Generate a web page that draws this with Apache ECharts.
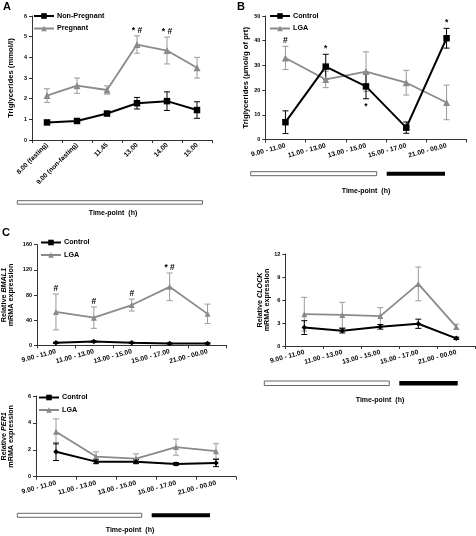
<!DOCTYPE html>
<html><head><meta charset="utf-8">
<script src="https://cdn.jsdelivr.net/npm/echarts@6/dist/echarts.min.js"></script>
<style>html,body{margin:0;padding:0;background:#fff}#c{width:476px;height:536px}</style>
</head><body><div id="c"></div>
<script>
// ---------- Panel A ----------
const catsA = ['8.00 (fasting)', '9.00 (non-fasting)', '11.45', '13.00', '14.00', '15.00'];
const ticksA = [0, 1, 2, 3, 4, 5, 6];
const nonPregMean = [0.85, 0.92, 1.28, 1.78, 1.88, 1.45];
const nonPregErr  = [0.07, 0.10, 0.08, 0.28, 0.45, 0.40];
const pregMean = [2.15, 2.63, 2.42, 4.62, 4.33, 3.50];
const pregErr  = [0.33, 0.37, 0.20, 0.42, 0.65, 0.50];
const pregAnno = ['', '', '', '* #', '* #', ''];

// ---------- shared time categories ----------
const catsTime = ['9.00 - 11.00', '11.00 - 13.00', '13.00 - 15.00', '15.00 - 17.00', '21.00 - 00.00'];

// ---------- Panel B ----------
const ticksB = [0, 10, 20, 30, 40, 50];
const ctrlB = [7, 29.5, 21.5, 4.8, 41];
const ctrlBErr = [4.6, 5, 5, 2.3, 4];
const ctrlBAnnoAbove = ['', '*', '', '', '*'];
const ctrlBAnnoBelow = ['', '', '*', '', ''];
const lgaB = [33, 24.3, 27.5, 23, 15];
const lgaBErr = [4.7, 3.3, 8, 5, 7];
const lgaBAnno = ['#', '', '', '', ''];

// ---------- Panel C: BMAL1 ----------
const ticksBmal = [0, 40, 80, 120, 160];
const ctrlBmal = [4, 6, 4, 3, 3];
const ctrlBmalErr = [1, 1, 1, 1, 1];
const lgaBmal = [53, 44, 64, 93, 50];
const lgaBmalErr = [28.5, 17, 9.5, 22, 15.5];
const lgaBmalAnno = ['#', '#', '#', '* #', ''];

// ---------- Panel C: CLOCK ----------
const ticksClock = [0, 3, 6, 9, 12];
const ctrlClock = [2.4, 2.0, 2.5, 2.9, 1.0];
const ctrlClockErr = [0.9, 0.3, 0.3, 0.6, 0.15];
const lgaClock = [4.15, 4.05, 3.9, 8.1, 2.5];
const lgaClockErr = [2.2, 1.65, 1.1, 2.2, 0.35];

// ---------- Panel C: PER1 ----------
const ticksPer = [0, 2, 4, 6];
const ctrlPer = [1.85, 1.12, 1.12, 0.95, 1.02];
const ctrlPerErr = [0.65, 0.15, 0.15, 0.1, 0.27];
const lgaPer = [3.35, 1.5, 1.35, 2.2, 1.9];
const lgaPerErr = [0.95, 0.35, 0.35, 0.6, 0.55];

const FF = '"Liberation Sans", Arial, sans-serif';
const BLACK = '#000';
const GRAY = '#8a8a8a';
const GRAY_ERR = '#9a9a9a';
const AX = '#333';

const chart = echarts.init(document.getElementById('c'), null, {renderer: 'canvas'});

function yAx(idx, ticks, name, gap, rich) {
  const o = {
    type: 'value', gridIndex: idx,
    min: ticks[0], max: ticks[ticks.length - 1], interval: ticks[1] - ticks[0],
    splitLine: {show: false},
    axisLine: {show: true, lineStyle: {color: AX, width: 1}},
    axisTick: {show: true, length: 3, lineStyle: {color: AX}},
    axisLabel: {fontSize: 5.5, fontWeight: 'bold', color: '#000', margin: 5, fontFamily: FF},
    name: name, nameLocation: 'middle', nameGap: gap,
    nameTextStyle: {fontSize: 7.7, fontWeight: 'bold', color: '#000', fontFamily: FF}
  };
  if (rich) {
    o.nameTextStyle = {color: '#000', fontFamily: FF, lineHeight: 7, rich: {
      n: {fontSize: 7.2, fontWeight: 'bold', fontFamily: FF, color: '#000', lineHeight: 7},
      i: {fontSize: 7.2, fontWeight: 'bold', fontStyle: 'italic', fontFamily: FF, color: '#000', lineHeight: 7}
    }};
  }
  return o;
}
function xAx(idx, cats, rotate, margin) {
  return {
    type: 'category', gridIndex: idx, data: cats, boundaryGap: true,
    axisLine: {show: true, lineStyle: {color: AX, width: 1}},
    axisTick: {show: true, length: 3, lineStyle: {color: AX}},
    axisLabel: {rotate: rotate, fontSize: 6.7, fontWeight: 'bold', color: '#000', margin: margin, fontFamily: FF, interval: 0}
  };
}
function lineS(idx, name, data, color, symbol, size) {
  return {
    type: 'line', name: name, xAxisIndex: idx, yAxisIndex: idx, data: data,
    symbol: symbol, symbolSize: size, showSymbol: true, z: color === BLACK ? 4 : 3,
    itemStyle: {color: color}, lineStyle: {color: color, width: color === BLACK ? 2 : 1.8},
    emphasis: {disabled: true}, animation: false
  };
}
function errS(idx, mean, err, color, above, below) {
  return {
    type: 'custom', xAxisIndex: idx, yAxisIndex: idx, z: 2, animation: false,
    data: mean.map((m, i) => [i, m - err[i], m + err[i]]),
    encode: {x: 0, y: [1, 2]},
    renderItem: function (params, api) {
      const i = api.value(0);
      const lo = api.coord([i, api.value(1)]);
      const hi = api.coord([i, api.value(2)]);
      const c = 3;
      const st = {stroke: color, lineWidth: 1};
      const ch = [
        {type: 'line', shape: {x1: hi[0], y1: hi[1], x2: lo[0], y2: lo[1]}, style: st},
        {type: 'line', shape: {x1: hi[0] - c, y1: hi[1], x2: hi[0] + c, y2: hi[1]}, style: st},
        {type: 'line', shape: {x1: lo[0] - c, y1: lo[1], x2: lo[0] + c, y2: lo[1]}, style: st}
      ];
      const di = params.dataIndex;
      if (above && above[di]) ch.push({type: 'text', x: hi[0], y: hi[1] - 1,
        style: {text: above[di], fill: '#000', font: 'bold 8.5px ' + FF, align: 'center', verticalAlign: 'bottom'}});
      if (below && below[di]) ch.push({type: 'text', x: lo[0], y: lo[1] + 3,
        style: {text: below[di], fill: '#000', font: 'bold 8.5px ' + FF, align: 'center', verticalAlign: 'top'}});
      return {type: 'group', children: ch};
    }
  };
}
function legendAt(left, top, names) {
  return {
    left: left, top: top, orient: 'vertical', padding: 0, itemGap: 5.5,
    itemWidth: 20, itemHeight: 7, data: names, selectedMode: false,
    textStyle: {fontSize: 7.2, fontWeight: 'bold', color: '#000', fontFamily: FF, padding: [0, 0, 0, -2]}
  };
}
function timeText(cx, cy) {
  return {type: 'text', x: cx, y: cy, style: {text: 'Time-point  (h)', font: 'bold 7px ' + FF, fill: '#000', align: 'center', verticalAlign: 'middle'}};
}
function rectW(x1, x2, y, h) {
  return {type: 'rect', shape: {x: x1, y: y, width: x2 - x1, height: h}, style: {fill: '#fff', stroke: '#666', lineWidth: 1}};
}
function rectB(x1, x2, y, h) {
  return {type: 'rect', shape: {x: x1, y: y, width: x2 - x1, height: h}, style: {fill: '#000'}};
}
function letter(x, y, t) {
  return {type: 'text', x: x, y: y, style: {text: t, font: 'bold 11px ' + FF, fill: '#000', align: 'left', verticalAlign: 'top'}};
}

const option = {
  animation: false,
  backgroundColor: '#fff',
  grid: [
    {left: 32, top: 16, width: 180, height: 124},
    {left: 265.3, top: 16, width: 201.4, height: 123.5},
    {left: 35.5, top: 244.7, width: 191, height: 100.6},
    {left: 285.3, top: 254, width: 190, height: 92},
    {left: 35, top: 396, width: 201, height: 80.7}
  ],
  xAxis: [
    xAx(0, catsA, 45, 4),
    xAx(1, catsTime, 15, 6),
    xAx(2, catsTime, 15, 6),
    xAx(3, catsTime, 15, 6),
    xAx(4, catsTime, 15, 6)
  ],
  yAxis: [
    yAx(0, ticksA, 'Triglycerides (mmol/l)', 17),
    yAx(1, ticksB, 'Triglycerides (µmol/g of prt)', 12.5),
    yAx(2, ticksBmal, '{n|Relative }{i|BMAL1}\n{n|mRMA expression}', 22, true),
    yAx(3, ticksClock, '{n|Relative }{i|CLOCK}\n{n|mRMA expression}', 12.5, true),
    yAx(4, ticksPer, '{n|Relative }{i|PER1}\n{n|mRMA expression}', 21, true)
  ],
  legend: [
    legendAt(33, 12.5, ['Non-Pregnant', 'Pregnant']),
    legendAt(269, 12.5, ['Control', 'LGA']),
    legendAt(40, 239, ['Control', 'LGA']),
    legendAt(38, 394, ['Control', 'LGA'])
  ],
  series: [
    // A
    errS(0, pregMean, pregErr, GRAY_ERR, pregAnno),
    errS(0, nonPregMean, nonPregErr, BLACK),
    lineS(0, 'Pregnant', pregMean, GRAY, 'triangle', 7),
    lineS(0, 'Non-Pregnant', nonPregMean, BLACK, 'rect', 6.5),
    // B
    lineS(1, 'Control', ctrlB, BLACK, 'rect', 6.5),
    lineS(1, 'LGA', lgaB, GRAY, 'triangle', 7),
    errS(1, lgaB, lgaBErr, GRAY_ERR, lgaBAnno),
    errS(1, ctrlB, ctrlBErr, BLACK, ctrlBAnnoAbove, ctrlBAnnoBelow),
    // BMAL1
    errS(2, lgaBmal, lgaBmalErr, GRAY_ERR, lgaBmalAnno),
    errS(2, ctrlBmal, ctrlBmalErr, BLACK),
    lineS(2, 'LGA', lgaBmal, GRAY, 'triangle', 6),
    lineS(2, 'Control', ctrlBmal, BLACK, 'diamond', 5.5),
    // CLOCK
    errS(3, lgaClock, lgaClockErr, GRAY_ERR),
    errS(3, ctrlClock, ctrlClockErr, BLACK),
    lineS(3, 'LGA', lgaClock, GRAY, 'triangle', 6),
    lineS(3, 'Control', ctrlClock, BLACK, 'diamond', 5.5),
    // PER1
    errS(4, lgaPer, lgaPerErr, GRAY_ERR),
    errS(4, ctrlPer, ctrlPerErr, BLACK),
    lineS(4, 'LGA', lgaPer, GRAY, 'triangle', 6),
    lineS(4, 'Control', ctrlPer, BLACK, 'diamond', 5.5)
  ],
  graphic: [
    letter(3, 1, 'A'), letter(237, 1, 'B'), letter(2, 227, 'C'),
    rectW(17.3, 202.5, 200.7, 3.5), timeText(113, 213.5),
    rectW(250.7, 376.7, 171.7, 4), rectB(386.7, 445, 171.7, 4), timeText(366, 191.5),
    rectW(264.3, 389.3, 381, 4.5), rectB(399.3, 457.7, 381, 4.5), timeText(380, 400),
    rectW(17.3, 141.7, 513.3, 4), rectB(151.7, 210, 513.3, 4), timeText(130, 530)
  ]
};
chart.setOption(option);
</script>
</body></html>
